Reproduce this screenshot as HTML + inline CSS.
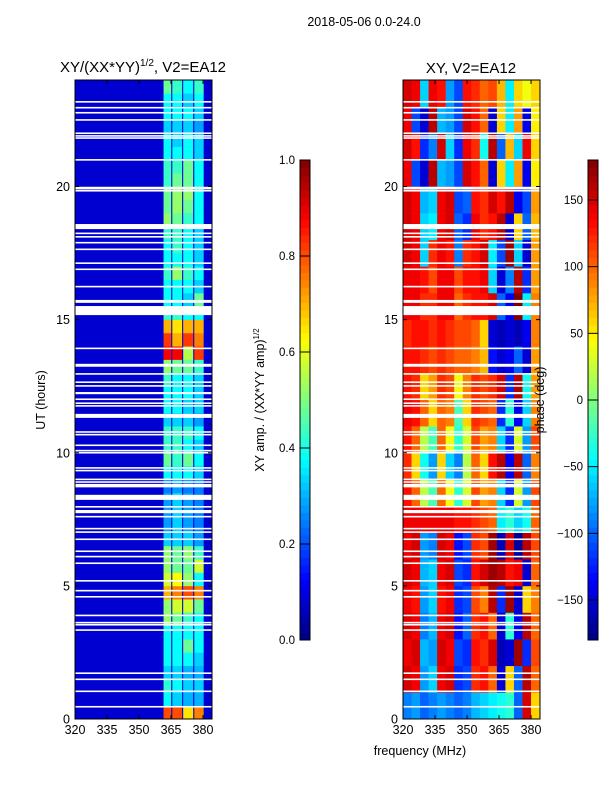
<!DOCTYPE html>
<html><head><meta charset="utf-8">
<style>
html,body{margin:0;padding:0;background:#fff;}
svg{display:block;font-family:"Liberation Sans","DejaVu Sans",sans-serif;}
</style></head>
<body>
<svg id="fig" width="600" height="800" xmlns="http://www.w3.org/2000/svg">
  <text x="364" y="26" font-size="12.5" text-anchor="middle">2018-05-06 0.0-24.0</text>
  <g id="left"></g>
  <g id="right"></g>
  <g id="cb1"></g>
  <g id="cb2"></g>
  <text x="143" y="72" font-size="15" text-anchor="middle">XY/(XX*YY)<tspan font-size="10" dy="-6">1/2</tspan><tspan dy="6">, V2=EA12</tspan></text>
  <text x="471" y="73" font-size="15" text-anchor="middle">XY, V2=EA12</text>
  <text transform="translate(45,400) rotate(-90)" font-size="12.5" text-anchor="middle">UT (hours)</text>
  <text x="420" y="755" font-size="12.5" text-anchor="middle">frequency (MHz)</text>
  <text transform="translate(264,400) rotate(-90)" font-size="12.5" text-anchor="middle">XY amp. / (XX*YY amp)<tspan font-size="8" dy="-5">1/2</tspan></text>
  <text transform="translate(544,400) rotate(-90)" font-size="12.5" text-anchor="middle">phase (deg)</text>
</svg>
<script>
// ---- data ----
const freqMin = 320, freqMax = 384.2;
const hourMin = 0, hourMax = 24;
const xTickLabels = [320, 335, 350, 365, 380];
const yTickLabels = [0, 5, 10, 15, 20];
const ampTicks = [0.0, 0.2, 0.4, 0.6, 0.8, 1.0];
const phaseTicks = [-150, -100, -50, 0, 50, 100, 150];
const ampBackground = 0.08;
const ampStripStart = [361.5, 365.6, 370.7, 375.9];
const ampStripEnd = [365.1, 370.2, 375.4, 380.3];
const ampRowHours = 0.5;
const ampValues = [
[0.8,0.8,0.65,0.75],[0.38,0.33,0.3,0.3],[0.42,0.38,0.33,0.33],[0.33,0.33,0.3,0.3],
[0.38,0.38,0.38,0.33],[0.38,0.38,0.48,0.38],[0.38,0.38,0.38,0.38],[0.52,0.48,0.43,0.38],
[0.52,0.58,0.58,0.48],[0.7,0.75,0.8,0.75],[0.58,0.62,0.52,0.38],[0.52,0.48,0.48,0.58],
[0.52,0.48,0.52,0.43],[0.33,0.33,0.33,0.28],[0.28,0.33,0.28,0.25],[0.28,0.33,0.28,0.25],
[0.28,0.33,0.28,0.25],[0.25,0.28,0.25,0.25],[0.38,0.38,0.38,0.33],[0.48,0.43,0.48,0.38],
[0.43,0.43,0.38,0.33],[0.43,0.43,0.43,0.38],[0.33,0.33,0.33,0.28],[0.38,0.38,0.33,0.33],
[0.38,0.38,0.38,0.33],[0.43,0.38,0.38,0.33],[0.52,0.48,0.48,0.43],[0.88,0.88,0.55,0.82],
[0.82,0.7,0.82,0.75],[0.7,0.65,0.7,0.7],[0.43,0.43,0.38,0.38],[0.38,0.38,0.33,0.48],
[0.38,0.38,0.38,0.33],[0.43,0.52,0.43,0.38],[0.38,0.38,0.38,0.33],[0.38,0.43,0.38,0.33],
[0.43,0.43,0.38,0.33],[0.52,0.48,0.43,0.38],[0.48,0.52,0.48,0.38],[0.48,0.52,0.52,0.38],
[0.43,0.48,0.48,0.38],[0.43,0.43,0.48,0.38],[0.38,0.38,0.38,0.33],[0.38,0.33,0.38,0.33],
[0.33,0.33,0.33,0.28],[0.38,0.38,0.38,0.33],[0.38,0.38,0.33,0.38],[0.48,0.43,0.38,0.43]
];
const phaseFreqBins = [320,324,328,332,336,340,344,348,352,356,360,364,368,372,376,380];
const phaseBinWidth = 4.2;
const phaseRowHours = 1;
const phaseValues = [
[-90,-80,-100,-90,-80,-90,-100,-90,-70,-60,-50,-40,-30,-100,150,60],
[150,140,-80,-60,140,150,-120,-110,120,130,100,-150,60,-100,160,100],
[140,150,-70,-80,150,140,-110,-120,130,120,150,-160,-150,170,-120,110],
[150,140,-90,-70,140,150,-130,-100,120,130,100,-150,-30,-140,160,100],
[140,130,-80,-60,130,140,-120,-110,110,90,160,-120,170,-150,60,90],
[150,140,-70,-60,140,150,-110,-120,130,150,170,160,130,140,-150,100],
[140,150,-80,-90,150,140,-130,-110,120,110,170,-160,150,-170,160,110],
[140,140,140,140,140,140,130,130,120,110,100,-50,-30,-60,-40,100],
[130,100,20,-20,100,40,-30,30,110,80,90,-60,-120,30,-80,110],
[120,60,-40,-80,60,-60,-90,20,100,60,130,160,-140,160,-100,90],
[130,100,20,-20,100,40,-30,30,110,80,90,-60,-120,30,-80,110],
[140,130,100,60,100,90,-20,60,120,110,100,-120,-30,-140,-60,90],
[130,120,60,80,120,110,40,90,120,110,120,150,-120,160,-40,80],
[130,130,120,110,120,110,100,100,90,70,-130,-150,-140,-100,-150,80],
[120,130,130,120,130,120,110,110,100,60,-150,-160,-150,-160,-140,90],
[140,140,120,120,140,140,100,120,130,130,150,-100,-140,180,-50,90],
[140,140,130,110,140,140,110,130,130,140,-60,-150,-90,160,-120,80],
[150,140,-60,120,140,130,-90,120,130,150,-50,-110,170,-60,-150,80],
[150,140,-60,-50,140,150,-100,-120,140,120,130,160,-150,60,-100,70],
[150,140,-70,-60,140,150,-110,-100,130,120,150,130,160,-140,-110,80],
[140,-110,-150,160,-70,-80,-110,150,130,100,-150,60,-50,80,-140,50],
[150,130,-120,-90,150,-60,-120,140,120,-40,160,-100,70,-60,140,60],
[140,-110,-150,160,-70,-80,-110,150,130,100,-150,60,-50,80,-140,50],
[150,140,-60,140,130,-80,-110,130,120,100,110,70,-50,60,40,60]
];
const gapHours = [23.18,22.96,22.77,22.50,22.00,21.90,21.82,21.0,19.84,18.24,18.11,17.89,17.64,17.12,16.89,16.24,15.71,15.66,13.92,13.31,13.26,12.96,12.65,12.51,12.01,11.86,11.76,10.78,10.68,10.28,10.08,10.0,9.43,9.33,9.0,8.9,7.97,7.6,7.15,7.02,6.75,6.30,6.10,5.85,5.19,4.82,4.59,3.89,3.62,3.54,3.34,1.72,1.49,1.04,0.46];
const gapWidths = [0.06,0.06,0.06,0.06,0.06,0.06,0.06,0.06,0.06,0.06,0.06,0.06,0.06,0.06,0.06,0.06,0.06,0.06,0.06,0.06,0.06,0.06,0.06,0.06,0.06,0.06,0.06,0.06,0.06,0.06,0.06,0.06,0.06,0.06,0.06,0.06,0.06,0.06,0.06,0.06,0.06,0.06,0.06,0.06,0.06,0.06,0.06,0.06,0.06,0.06,0.06,0.06,0.06,0.06,0.06];
const bigGapStart = [19.89,18.40,15.17,12.2,11.31,8.70,8.23,7.73];
const bigGapEnd = [19.99,18.59,15.51,12.28,11.46,8.83,8.42,7.85];

// ---- helpers ----
const NS = "http://www.w3.org/2000/svg";
function jet(v){
  v = Math.max(0, Math.min(1, v));
  const r = Math.max(0, Math.min(1, 1.5 - Math.abs(4*v - 3)));
  const g = Math.max(0, Math.min(1, 1.5 - Math.abs(4*v - 2)));
  const b = Math.max(0, Math.min(1, 1.5 - Math.abs(4*v - 1)));
  return `rgb(${Math.round(r*255)},${Math.round(g*255)},${Math.round(b*255)})`;
}
function mk(tag, attrs, parent){
  const e = document.createElementNS(NS, tag);
  for (const k in attrs) e.setAttribute(k, attrs[k]);
  parent.appendChild(e);
  return e;
}
function makeAxes(x0, x1, y0, y1){
  return {
    x: f => x0 + (f - freqMin) / (freqMax - freqMin) * (x1 - x0),
    y: h => y1 - (h - hourMin) / (hourMax - hourMin) * (y1 - y0),
    x0, x1, y0, y1
  };
}
function drawFrame(g, ax, name){
  for (let i = 0; i < gapHours.length; i++){
    const r = mk('rect', {x: ax.x0, y: ax.y(gapHours[i] + gapWidths[i]/2), width: ax.x1 - ax.x0, height: (ax.y1 - ax.y0) * gapWidths[i] / 24, fill: '#fff'}, g);
    
    
  }
  for (let i = 0; i < bigGapStart.length; i++){
    const r = mk('rect', {x: ax.x0, y: ax.y(bigGapEnd[i]), width: ax.x1 - ax.x0, height: ax.y(bigGapStart[i]) - ax.y(bigGapEnd[i]), fill: '#fff'}, g);
    
    
  }
  const fr = mk('rect', {x: ax.x0, y: ax.y0, width: ax.x1 - ax.x0, height: ax.y1 - ax.y0, fill: 'none', stroke: '#000', 'stroke-width': 1}, g);
  
  
  xTickLabels.forEach(t => {
    const X = ax.x(t);
    mk('line', {x1: X, x2: X, y1: ax.y1, y2: ax.y1 - 4, stroke: '#000'}, g);
    mk('line', {x1: X, x2: X, y1: ax.y0, y2: ax.y0 + 4, stroke: '#000'}, g);
    const tx = mk('text', {x: X, y: ax.y1 + 15, 'font-size': 12.5, 'text-anchor': 'middle'}, g);
    tx.textContent = t;
    
    
  });
  yTickLabels.forEach(t => {
    const Y = ax.y(t);
    mk('line', {x1: ax.x0, x2: ax.x0 + 4, y1: Y, y2: Y, stroke: '#000'}, g);
    mk('line', {x1: ax.x1, x2: ax.x1 - 4, y1: Y, y2: Y, stroke: '#000'}, g);
    const tx = mk('text', {x: ax.x0 - 5, y: Y + 4.5, 'font-size': 12.5, 'text-anchor': 'end'}, g);
    tx.textContent = t;
    
    
  });
}

// ---- amplitude panel ----
const gL = document.getElementById('left');
const axL = makeAxes(75, 212, 80, 719);
const bgRect = mk('rect', {x: axL.x0, y: axL.y0, width: axL.x1 - axL.x0, height: axL.y1 - axL.y0, fill: jet(ampBackground)}, gL);


ampValues.forEach((row, i) => {
  row.forEach((v, j) => {
    const yTop = axL.y((i + 1) * ampRowHours), yBot = axL.y(i * ampRowHours);
    const c = mk('rect', {x: axL.x(ampStripStart[j]), y: yTop, width: axL.x(ampStripEnd[j]) - axL.x(ampStripStart[j]), height: yBot - yTop + 0.3, fill: jet(v)}, gL);
    
    
  });
});
drawFrame(gL, axL, 'amplitude-axes');

// ---- phase panel ----
const gR = document.getElementById('right');
const axR = makeAxes(403, 540, 80, 719);
phaseValues.forEach((row, i) => {
  row.forEach((v, j) => {
    const yTop = axR.y((i + 1) * phaseRowHours), yBot = axR.y(i * phaseRowHours);
    const f0 = phaseFreqBins[j], f1 = Math.min(freqMax, f0 + phaseBinWidth);
    const c = mk('rect', {x: axR.x(f0), y: yTop, width: axR.x(f1) - axR.x(f0) + 0.3, height: yBot - yTop + 0.3, fill: jet((v + 180) / 360)}, gR);
    
    
  });
});
drawFrame(gR, axR, 'phase-axes');

// ---- colorbars ----
function colorbar(g, x, w, y0, y1, ticks, vmin, vmax, fmt, name){
  const n = 64;
  for (let i = 0; i < n; i++){
    const yy = y1 - (i + 1) * (y1 - y0) / n;
    mk('rect', {x: x, y: yy, width: w, height: (y1 - y0) / n + 0.4, fill: jet((i + 0.5) / n)}, g);
  }
  const fr = mk('rect', {x: x, y: y0, width: w, height: y1 - y0, fill: 'none', stroke: '#000'}, g);
  
  
  ticks.forEach(t => {
    const Y = y1 - (t - vmin) / (vmax - vmin) * (y1 - y0);
    mk('line', {x1: x, x2: x + w, y1: Y, y2: Y, stroke: '#000'}, g);
    const tx = mk('text', {x: x - 5, y: Y + 4, 'font-size': 11.5, 'text-anchor': 'end'}, g);
    tx.textContent = fmt(t);
    
    
  });
}
colorbar(document.getElementById('cb1'), 300, 10, 160, 640, ampTicks, 0, 1, t => t.toFixed(1), 'amplitude-colorbar');
colorbar(document.getElementById('cb2'), 588, 10, 160, 640, phaseTicks, -180, 180, t => String(t).replace('-', '\u2212'), 'phase-colorbar');
</script>
</body></html>
